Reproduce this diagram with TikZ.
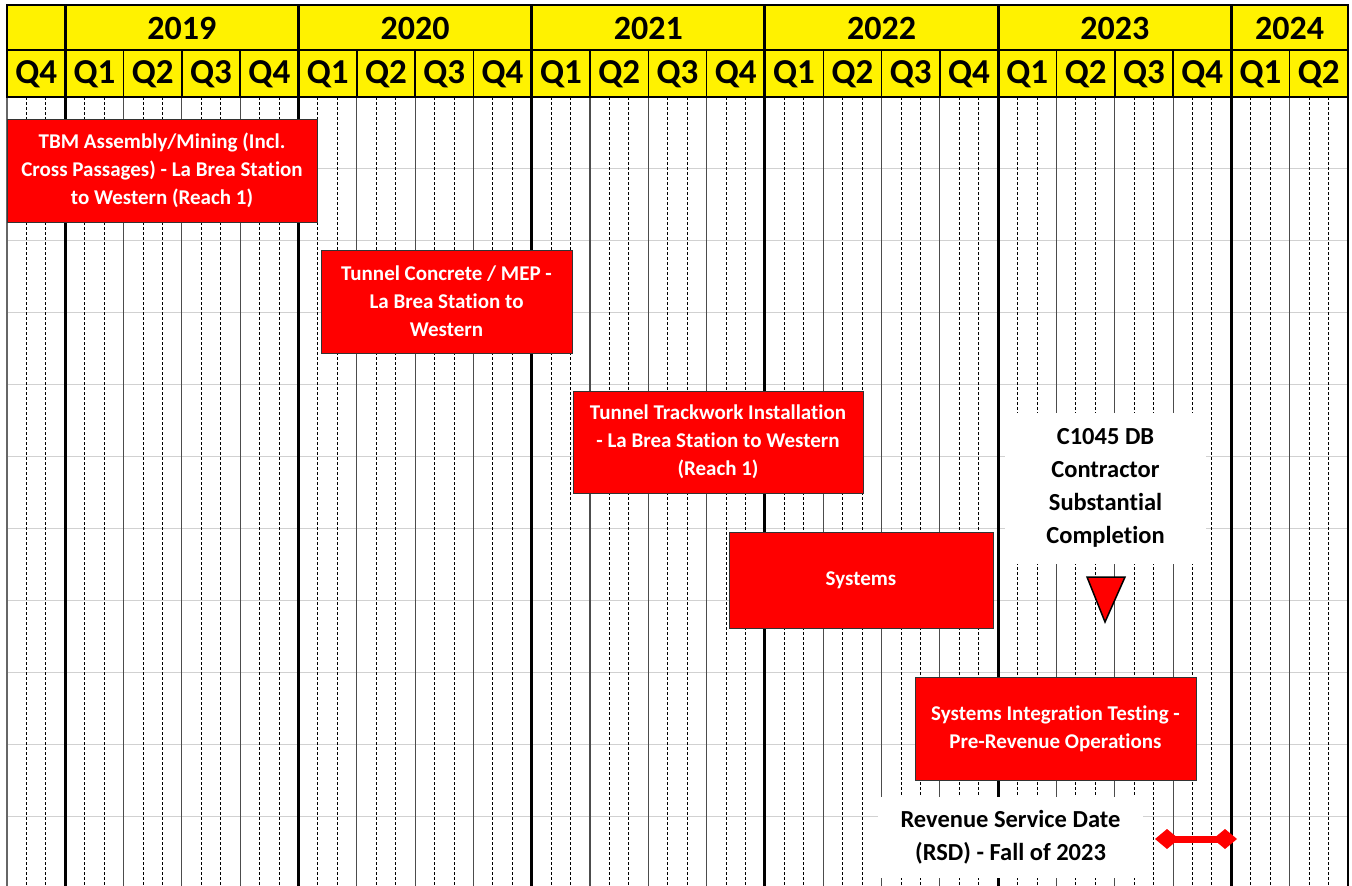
\documentclass[tikz,border=0pt]{standalone}
\usepackage{fontspec}
\setmainfont[Ligatures=NoCommon]{Carlito}
\usetikzlibrary{arrows.meta}
\tikzset{
  redbox/.style={draw=black!80, line width=1pt, fill=red, text=white,
    font=\bfseries\fontsize{21}{28}\selectfont, align=center, inner sep=0pt},
  labelbox/.style={fill=white, text=black, align=center, inner sep=0pt,
    font=\bfseries\fontsize{24.5}{33}\selectfont},
  yearhdr/.style={font=\bfseries\fontsize{34}{38}\selectfont, inner sep=0pt},
  qhdr/.style={font=\bfseries\fontsize{35}{38}\selectfont, inner sep=0pt},
  monthline/.style={black, line width=1pt, dash pattern=on 3pt off 2pt},
  qline/.style={black!70, line width=1.1pt},
  yline/.style={black, line width=3pt},
  rowline/.style={black!18, line width=1pt},
}
\def\qw{58.304}
\def\mw{19.4348}
\begin{document}
\begin{tikzpicture}[x=1pt,y=-1pt]
\useasboundingbox[fill=white] (0,0) rectangle (1352,886);
% horizontal row lines
\foreach \k in {1,...,10} \draw[rowline] (7,{97+71.9*\k}) -- (1348,{97+71.9*\k});
% month lines
\foreach \q in {0,...,22} \foreach \m in {1,2}
  \draw[monthline] ({7+(3*\q+\m)*\mw},97) -- ({7+(3*\q+\m)*\mw},886);
% quarter lines
\foreach \q in {1,...,22} \draw[qline] ({7+\q*\qw},97) -- ({7+\q*\qw},886);
% year lines
\foreach \q in {1,5,9,13,17,21} \draw[yline] ({7+\q*\qw},97) -- ({7+\q*\qw},886);
\draw[black!60, line width=1.5pt] (7,97) -- (7,886);
\draw[black, line width=2pt] (1348,97) -- (1348,886);
% header
\fill[yellow] (7,5) rectangle (1348,97);
\foreach \q in {1,...,22} \draw[black, line width=1.5pt] ({7+\q*\qw},50) -- ({7+\q*\qw},97);
\foreach \q in {1,5,9,13,17,21} \draw[black, line width=3pt] ({7+\q*\qw},5) -- ({7+\q*\qw},97);
\draw[black, line width=2pt] (7,50) -- (1348,50);
\draw[black, line width=2pt] (7,5) rectangle (1348,97);
\foreach \yr/\a/\b in {2019/1/5, 2020/5/9, 2021/9/13, 2022/13/17, 2023/17/21, 2024/21/23}
  \node[yearhdr] (y\yr) at ({7+(\a+\b)/2*\qw},28) {\yr};
\foreach \lab [count=\i from 0] in {4,1,2,3,4,1,2,3,4,1,2,3,4,1,2,3,4,1,2,3,4,1,2}
  \node[qhdr] (q\i) at ({7+(\i+0.5)*\qw},74) {Q\lab};
% white label boxes
\node[labelbox, minimum width=201pt, minimum height=151pt] (c1045) at (1105.5,488)
  {C1045 DB\\Contractor\\Substantial\\Completion};
\node[labelbox, minimum width=265pt, minimum height=81pt] (rsd) at (1010.5,837)
  {Revenue Service Date\\(RSD) - Fall of 2023};
% red activity boxes
\node[redbox, minimum width=310pt, minimum height=103pt] (tbm) at (162,170.5)
  {TBM Assembly/Mining (Incl.\\Cross Passages) - La Brea Station\\to Western (Reach 1)};
\node[redbox, minimum width=251pt, minimum height=103pt] (concrete) at (446.5,301.5)
  {Tunnel Concrete / MEP -\\La Brea Station to\\Western};
\node[redbox, minimum width=290pt, minimum height=102pt] (track) at (718,442)
  {Tunnel Trackwork Installation\\- La Brea Station to Western\\(Reach 1)};
\node[redbox, minimum width=264pt, minimum height=96pt] (systems) at (861,580)
  {Systems};
\node[redbox, minimum width=281pt, minimum height=103pt] (sit) at (1055.5,728.5)
  {Systems Integration Testing -\\Pre-Revenue Operations};
% milestone triangle
\draw[fill=red, draw=black, line width=1.5pt, line join=miter] (1087,577) -- (1125,577) -- (1105,622) -- cycle;
% RSD window
\coordinate (rsdA) at (1155,839);
\coordinate (rsdB) at (1237,839);
\draw[red, line width=7pt, {Diamond[length=24pt,width=20pt]}-{Diamond[length=24pt,width=20pt]}] (rsdA) -- (rsdB);
\end{tikzpicture}
\end{document}
